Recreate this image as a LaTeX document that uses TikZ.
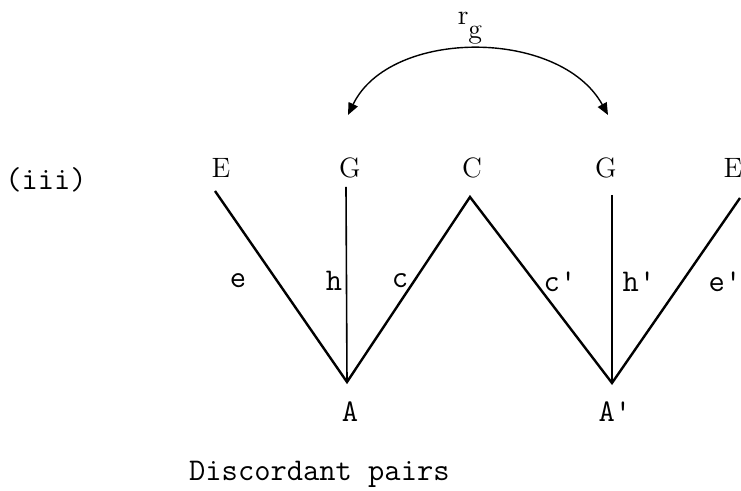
\documentclass[tikz,border=0pt]{standalone}
\usetikzlibrary{arrows.meta}

\begin{document}
\begin{tikzpicture}[x=0.5pt,y=-0.5pt,line width=1.2pt,>={Triangle[length=6pt,width=5pt]},
  lbl/.style={inner sep=0pt,font=\fontsize{14}{16}\selectfont},
  tw/.style={inner sep=0pt,font=\ttfamily\fontsize{15.8}{18}\selectfont},
  stem/.style={line width=0.8pt}]
\useasboundingbox (0,0) rectangle (741,491);
% ================= vertices =================
\coordinate (e1) at (215,191);
\coordinate (g1) at (346,187);
\coordinate (cc) at (470,197);
\coordinate (g2) at (612,195);
\coordinate (e2) at (740,198);
\coordinate (a1) at (347,382);
\coordinate (a2) at (612,383);
% top labels
\node[lbl] (E1) at (221,168) {E};
\node[lbl] (G1) at (350,168) {G};
\node[lbl] (C) at (472,168) {C};
\node[lbl] (G2) at (606,168) {G};
\node[lbl] (E2) at (733,168) {E};
\node[tw] (iii) at (46,180) {(iii)};
% ================= the W =================
\draw (e1) -- (a1) -- (cc) -- (a2) -- (e2);
\draw[stem] (g1) -- (a1);
\draw[stem] (g2) -- (a2);
% edge labels
\node[tw] (le) at (238,281) {e};
\node[tw] (lh) at (334,281) {h};
\node[tw] (lc) at (400,281) {c};
\node[tw] (lc2) at (560,282) {c'};
\node[tw] (lh2) at (639,282) {h'};
\node[tw] (le2) at (725,282) {e'};
% bottom labels
\node[tw] (A1) at (350,412) {A};
\node[tw] (A2) at (615,412) {A'};
% ================= r_g swap =================
\coordinate (t1) at (348,115);
\coordinate (t2) at (608,115);
\draw[line width=0.7pt,<->] (t1) .. controls (390,28) and (560,28) .. (t2);
\node[lbl] (rg) at (470,28) {r\raisebox{-1.2ex}{g}};
% ================= caption =================
\node[tw,anchor=west] (cap) at (188,474) {Discordant pairs};
\end{tikzpicture}
\end{document}
